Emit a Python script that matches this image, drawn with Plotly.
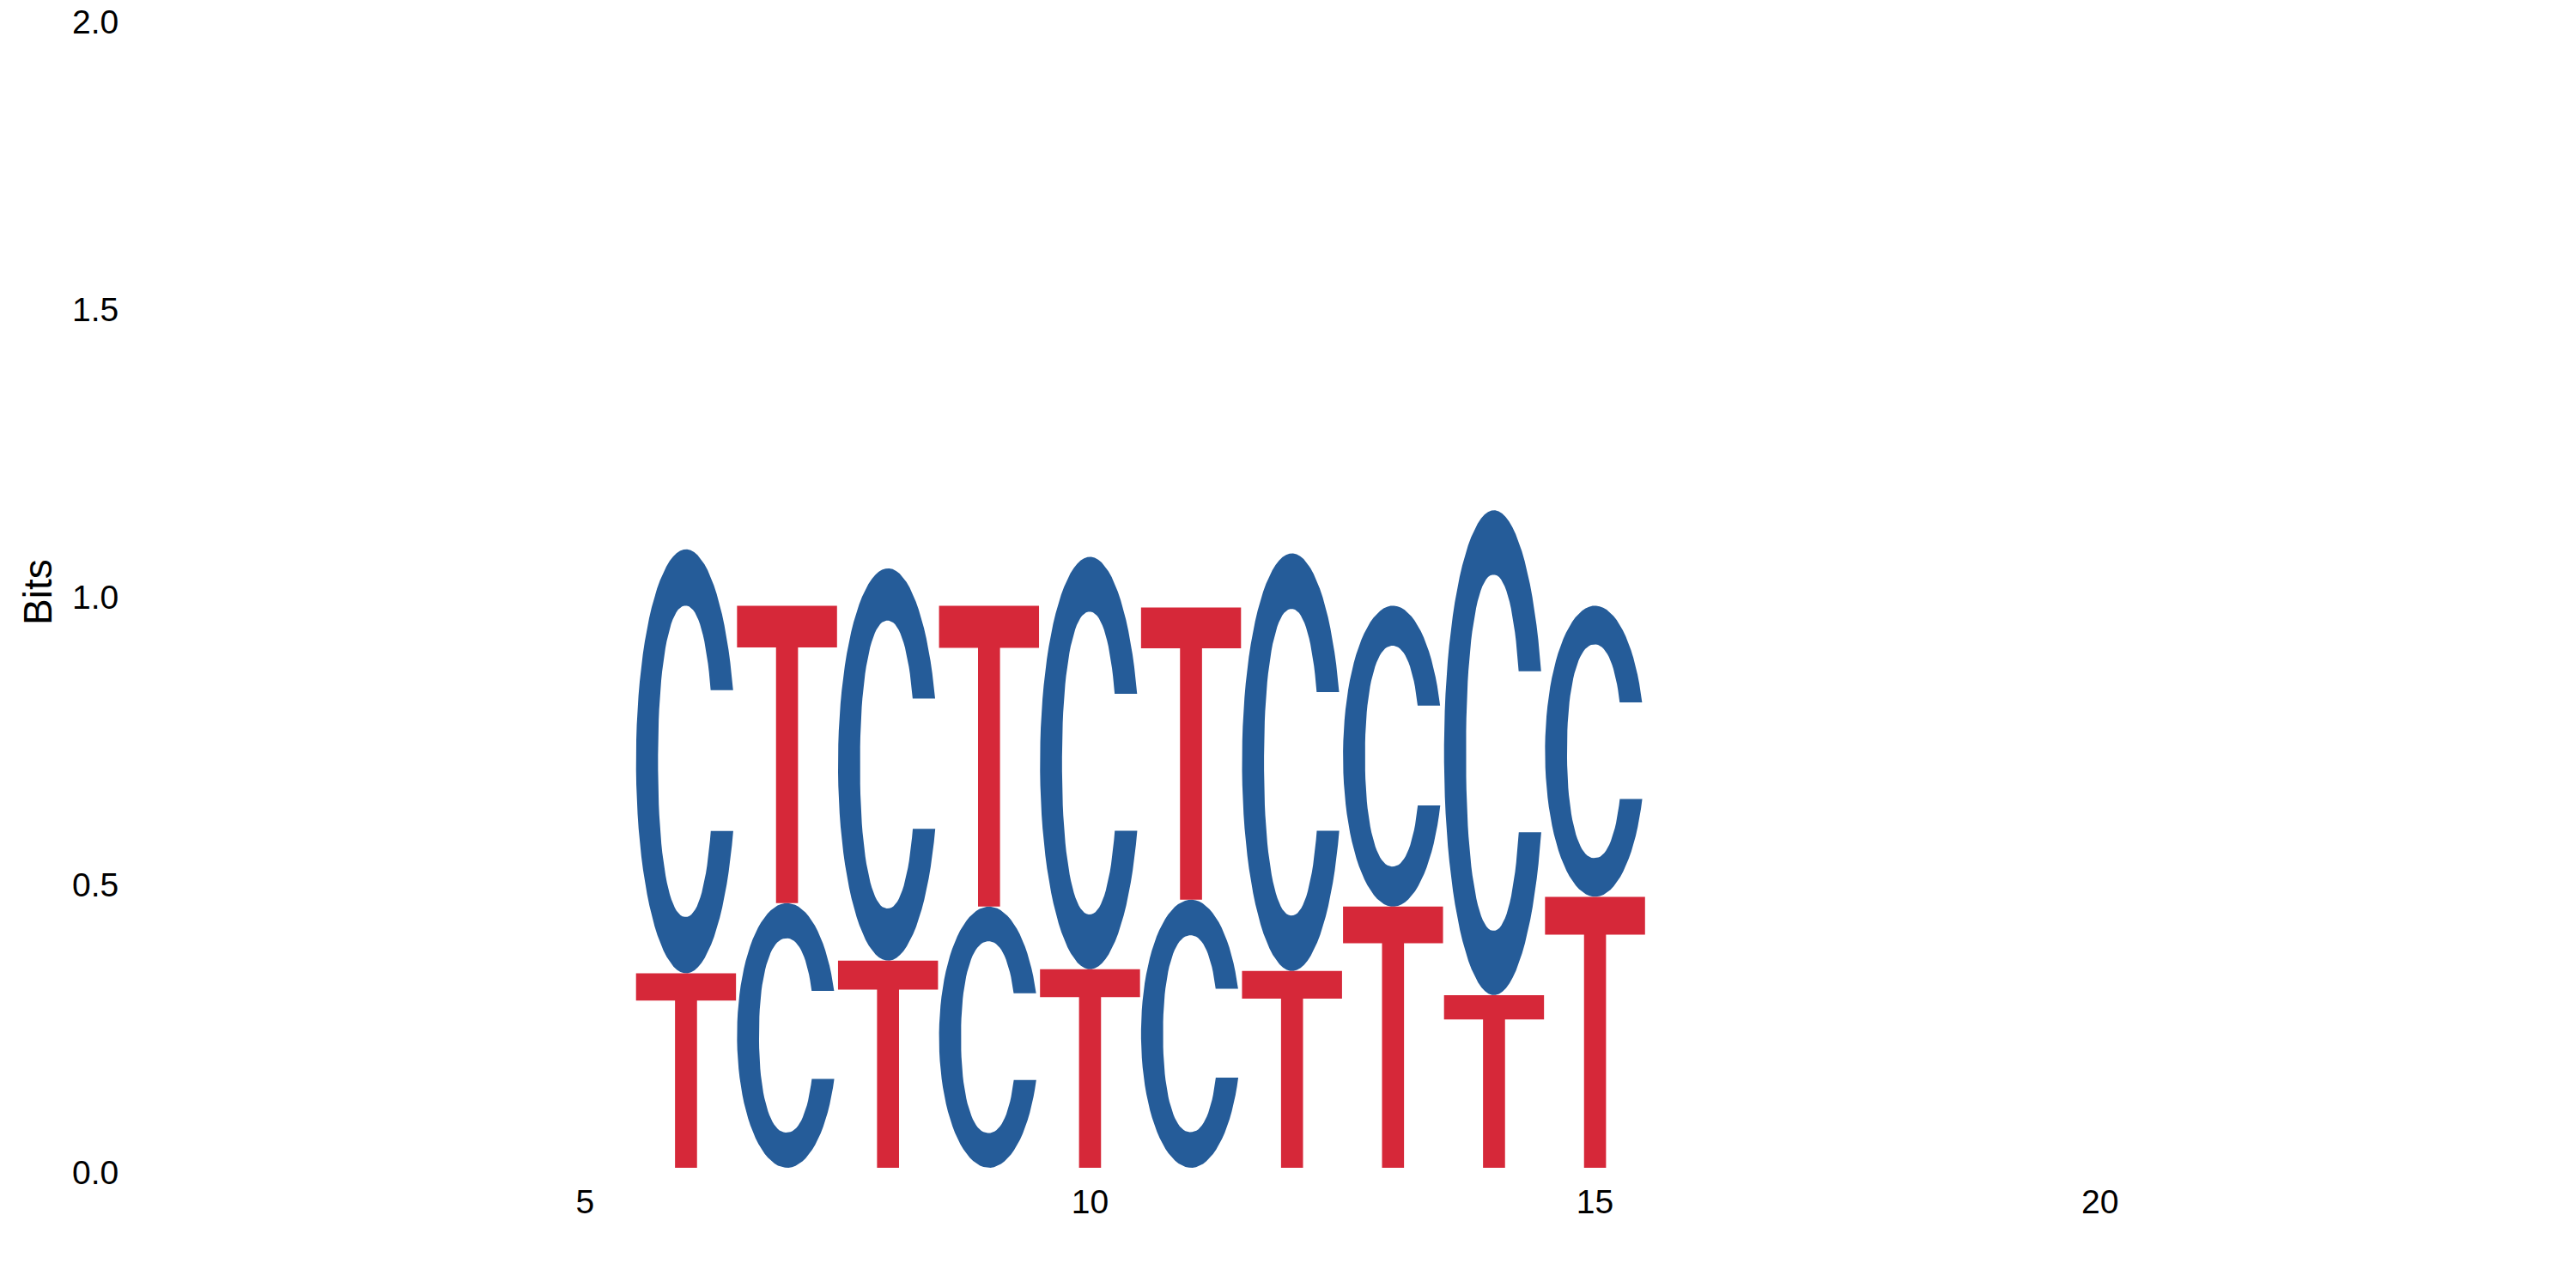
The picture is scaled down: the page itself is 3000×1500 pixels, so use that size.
import numpy as np
import plotly.graph_objects as go

# sequence logo data (bits per letter at each position)
positions = [6, 7, 8, 9, 10, 11, 12, 13, 14, 15]
c_bits = [0.737, 0.460, 0.682, 0.454, 0.717, 0.466, 0.726, 0.523, 0.843, 0.506]
t_bits = [0.338, 0.517, 0.360, 0.523, 0.345, 0.508, 0.342, 0.454, 0.300, 0.471]
x_ticks = [5, 10, 15, 20]
y_ticks = [0.0, 0.5, 1.0, 1.5, 2.0]

colors = {'C': '#255C99', 'T': '#D62839'}
W = 0.99  # letter width


def arc(cx, cy, rx, ry, n, t0, t1, k=80):
    ts = np.linspace(t0, t1, k)
    c, s = np.cos(ts), np.sin(ts)
    x = cx + rx * np.sign(c) * np.abs(c) ** (2 / n)
    y = cy + ry * np.sign(s) * np.abs(s) ** (2 / n)
    return list(x), list(y)


def t_at(cy, ry, n, yv):
    return np.arcsin(min(1, (abs(yv - cy) / ry) ** (n / 2)))


# glyph outlines in a unit box
def glyph_c():
    up, lo = 0.668, 0.336
    no, ni = 2.0, 2.2
    a = t_at(0.5, 0.5, no, up)
    b = t_at(0.5, 0.5, no, lo)
    ox, oy = arc(0.5, 0.5, 0.5, 0.5, no, a, 2 * np.pi - b)
    a2 = t_at(0.5, 0.367, ni, up)
    b2 = t_at(0.5, 0.367, ni, lo)
    ix, iy = arc(0.495, 0.5, 0.275, 0.367, ni, 2 * np.pi - b2, a2)
    return ox + ix, oy + iy


def glyph_t():
    bar = 0.86
    x = [0.39, 0.61, 0.61, 1, 1, 0, 0, 0.39]
    y = [0, 0, bar, bar, 1, 1, bar, bar]
    return x, y


glyphs = {'C': glyph_c(), 'T': glyph_t()}

xs = {'C': [], 'T': []}
ys = {'C': [], 'T': []}
for p, hc, ht in zip(positions, c_bits, t_bits):
    base = 0
    # smaller letter at the bottom of the stack
    for letter, h in sorted([('C', hc), ('T', ht)], key=lambda v: v[1]):
        gx, gy = glyphs[letter]
        xs[letter] += [p - W / 2 + u * W for u in gx] + [p - W / 2 + gx[0] * W, None]
        ys[letter] += [base + v * h for v in gy] + [base + gy[0] * h, None]
        base += h

fig = go.Figure()
for letter in ['C', 'T']:
    fig.add_trace(go.Scatter(x=xs[letter], y=ys[letter], mode='lines', fill='toself',
                             fillcolor=colors[letter], line=dict(width=0, color=colors[letter]),
                             hoverinfo='skip', showlegend=False))

font = dict(family='Liberation Sans, Arial, sans-serif', size=39, color='black')
fig.update_layout(
    width=3000, height=1500,
    margin=dict(l=144, r=33, t=12, b=148),
    plot_bgcolor='white', paper_bgcolor='white',
    font=font,
    xaxis=dict(range=[0.5, 24.5], tickvals=x_ticks, showgrid=False, zeroline=False,
               showline=False, ticks='', ticklabelstandoff=13, tickfont=font,
               automargin=False),
    yaxis=dict(range=[0, 2], tickvals=y_ticks, tickformat='.1f', showgrid=False,
               zeroline=False, showline=False, ticks='outside', ticklen=5,
               tickcolor='rgba(0,0,0,0)', tickfont=font, ticklabeloverflow='allow',
               ticklabelshift=5, automargin=False),
)
fig.add_annotation(text='Bits', xref='paper', yref='paper', x=0, y=0.5, xanchor='center',
                   yanchor='middle', xshift=-108, textangle=-90, showarrow=False,
                   font=dict(family='Liberation Sans, Arial, sans-serif', size=46, color='black'))

fig.write_html("out.html")
